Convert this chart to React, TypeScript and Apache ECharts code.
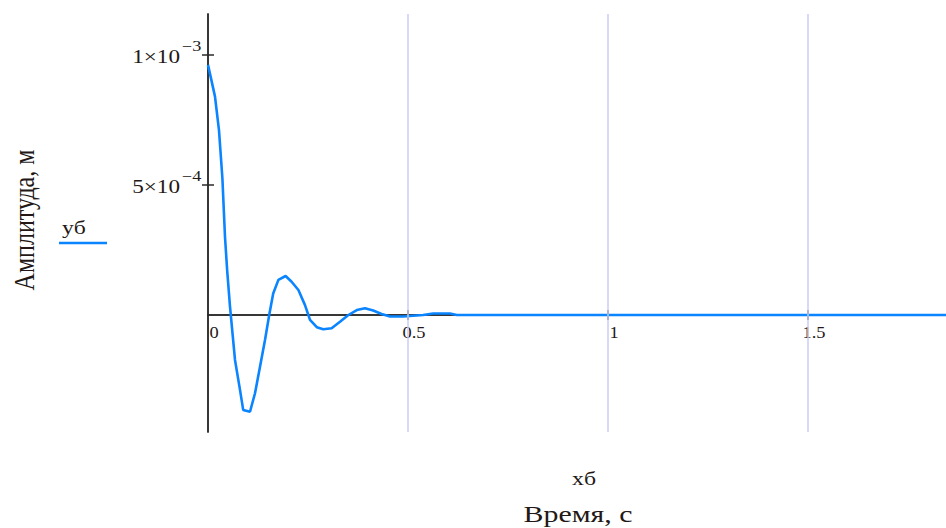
import React, { useEffect, useRef } from "react";
import * as echarts from "echarts";

// Damped response of the beam: time in seconds, displacement in metres
const timeS = [
  0, 0.0075, 0.0175, 0.0275, 0.036, 0.0425, 0.048, 0.055, 0.0675, 0.08, 0.088,
  0.105, 0.1175, 0.13, 0.1425, 0.153, 0.163, 0.176, 0.194, 0.209, 0.226,
  0.2425, 0.255, 0.272, 0.288, 0.309, 0.33, 0.351, 0.372, 0.3925, 0.413,
  0.434, 0.455, 0.488, 0.538, 0.563, 0.605, 0.622, 1.845,
];
const amplitudeM = [
  9.62e-4, 9.1e-4, 8.4e-4, 7.1e-4, 5.26e-4, 3.0e-4, 1.7e-4, 0.32e-4, -1.73e-4,
  -2.88e-4, -3.65e-4, -3.72e-4, -3.01e-4, -1.99e-4, -0.96e-4, 0, 0.83e-4,
  1.35e-4, 1.5e-4, 1.28e-4, 0.96e-4, 0.38e-4, -0.19e-4, -0.47e-4, -0.55e-4,
  -0.51e-4, -0.26e-4, 0, 0.19e-4, 0.26e-4, 0.17e-4, 0.04e-4, -0.06e-4,
  -0.06e-4, 0, 0.06e-4, 0.06e-4, 0, 0,
];

const xTickValues = [0, 0.5, 1, 1.5];
const xTickLabels = ["0", "0.5", "1", "1.5"];
const xGridValues = [0.5, 1, 1.5];
const yTickValues = [5e-4, 1e-3];

const seriesName = "yб";
const xVarName = "xб";
const xTitle = "Время, с";
const yTitle = "Амплитуда, м";

const X_MIN = 0;
const X_MAX = 1.845;
const Y_MIN = -4.5e-4;
const Y_MAX = 1.1577e-3;

const SERIF = '"Liberation Serif", "Times New Roman", serif';
const TEXT = "#231815";
const CURVE = "#0a84ff";
const AXIS = "#2a2a2a";
const GRIDLINE = "#cbcbf5";

// mantissa×10 and exponent parts for a tick value such as 5e-4
function sciParts(v: number): [string, string] {
  const e = Math.floor(Math.log10(v) + 1e-9);
  const m = Math.round(v / Math.pow(10, e));
  return [`${m}×10`, `−${Math.abs(e)}`];
}

export default function App() {
  const ref = useRef<HTMLDivElement>(null);

  useEffect(() => {
    if (!ref.current) return;
    const chart = echarts.init(ref.current, null, { renderer: "svg" });

    const xAxisBase = {
      type: "value" as const,
      min: X_MIN,
      max: X_MAX,
      position: "bottom" as const,
      axisLine: { show: true, onZero: true, lineStyle: { color: AXIS, width: 1.5 } },
      axisLabel: { show: false },
      splitLine: { show: false },
    };
    const yAxisBase = {
      type: "value" as const,
      min: Y_MIN,
      max: Y_MAX,
      position: "left" as const,
      axisLine: { show: true, onZero: true, lineStyle: { color: AXIS, width: 1.5 } },
      axisLabel: { show: false },
      splitLine: { show: false },
    };

    chart.setOption({
      animation: false,
      grid: { left: 208, right: 0, top: 14, bottom: 96 },
      xAxis: [
        {
          ...xAxisBase,
          axisTick: {
            show: true,
            length: 5,
            inside: false,
            customValues: xGridValues,
            lineStyle: { color: AXIS, width: 1.5 },
          },
        },
        {
          ...xAxisBase,
          axisTick: {
            show: true,
            length: 5,
            inside: true,
            customValues: xGridValues,
            lineStyle: { color: AXIS, width: 1.5 },
          },
        },
      ],
      yAxis: [
        {
          ...yAxisBase,
          axisTick: {
            show: true,
            length: 6,
            inside: false,
            customValues: yTickValues,
            lineStyle: { color: AXIS, width: 1.5 },
          },
        },
        {
          ...yAxisBase,
          axisTick: {
            show: true,
            length: 6,
            inside: true,
            customValues: yTickValues,
            lineStyle: { color: AXIS, width: 1.5 },
          },
        },
      ],
      series: [
        {
          type: "line",
          name: "grid",
          data: [],
          z: 1,
          markLine: {
            silent: true,
            symbol: ["none", "none"],
            label: { show: false },
            lineStyle: { color: GRIDLINE, width: 1.5, type: "solid" },
            data: xGridValues.map((v) => ({ xAxis: v })),
          },
        },
        {
          type: "line",
          name: seriesName,
          z: 3,
          showSymbol: false,
          smooth: false,
          lineStyle: { color: CURVE, width: 2.6 },
          data: timeS.map((t, i) => [t, amplitudeM[i]]),
        },
      ],
    });

    // tick labels placed through the axes' own scales
    const texts: any[] = [];
    xTickValues.forEach((v, i) => {
      const [px, py] = chart.convertToPixel({ gridIndex: 0 }, [v, 0]) as number[];
      texts.push({
        type: "text",
        x: px + 6,
        y: py + 18,
        scaleX: 1.15,
        style: {
          text: xTickLabels[i],
          fontFamily: SERIF,
          fontSize: 16,
          fill: TEXT,
          align: "center",
          verticalAlign: "middle",
        },
      });
    });
    yTickValues.forEach((v) => {
      const [px, py] = chart.convertToPixel({ gridIndex: 0 }, [0, v]) as number[];
      const [base, exp] = sciParts(v);
      texts.push({
        type: "text",
        x: px - 28,
        y: py + 1.5,
        scaleX: 1.22,
        style: {
          text: base,
          fontFamily: SERIF,
          fontSize: 19,
          fill: TEXT,
          align: "right",
          verticalAlign: "middle",
        },
      });
      texts.push({
        type: "text",
        x: px - 26,
        y: py - 8,
        scaleX: 1.3,
        style: {
          text: exp,
          fontFamily: SERIF,
          fontSize: 14,
          fill: TEXT,
          align: "left",
          verticalAlign: "middle",
        },
      });
    });

    chart.setOption({
      graphic: [
        ...texts,
        // legend entry
        {
          type: "text",
          x: 62,
          y: 228,
          scaleX: 1.25,
          style: {
            text: seriesName,
            fontFamily: SERIF,
            fontSize: 19,
            fill: TEXT,
            align: "left",
            verticalAlign: "middle",
          },
        },
        {
          type: "line",
          shape: { x1: 59, y1: 243, x2: 107, y2: 243 },
          style: { stroke: CURVE, lineWidth: 2.6 },
        },
        // x variable and axis title
        {
          type: "text",
          x: 584,
          y: 479,
          scaleX: 1.25,
          style: {
            text: xVarName,
            fontFamily: SERIF,
            fontSize: 19,
            fill: TEXT,
            align: "center",
            verticalAlign: "middle",
          },
        },
        {
          type: "text",
          x: 578,
          y: 514,
          scaleX: 1.3,
          style: {
            text: xTitle,
            fontFamily: SERIF,
            fontSize: 23,
            fill: TEXT,
            align: "center",
            verticalAlign: "middle",
          },
        },
        // y axis title, reading bottom to top
        {
          type: "text",
          x: 24,
          y: 220,
          rotation: Math.PI / 2,
          scaleY: 1.25,
          style: {
            text: yTitle,
            fontFamily: SERIF,
            fontSize: 24,
            fill: TEXT,
            align: "center",
            verticalAlign: "middle",
          },
        },
      ],
    });

    return () => chart.dispose();
  }, []);

  return (
    <div
      ref={ref}
      style={{ position: "fixed", left: 0, top: 0, width: 946, height: 528, background: "#fff" }}
    />
  );
}
